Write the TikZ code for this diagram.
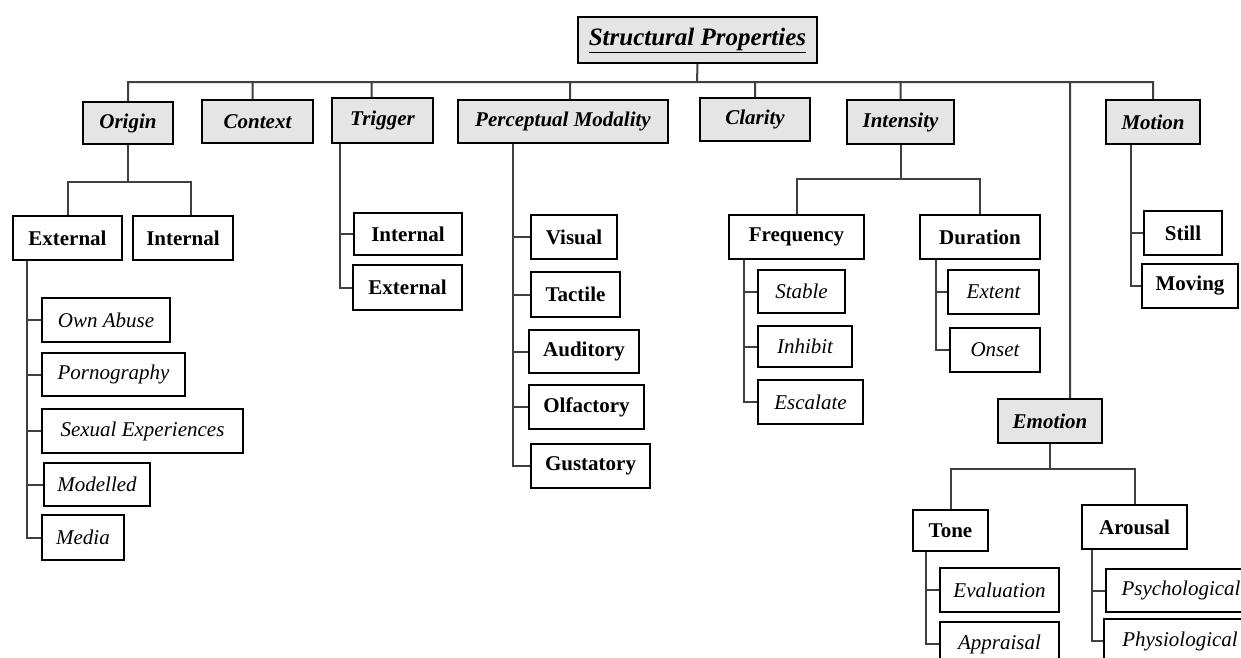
\documentclass[tikz,border=0pt]{standalone}
\usepackage{fontspec}
\setmainfont{Liberation Serif}

\begin{document}
\begin{tikzpicture}[x=1pt, y=-1pt,
    box/.style={draw, line width=2pt, anchor=north west, inner sep=0pt},
    head/.style={box, fill=gray!20, font=\fontsize{21}{25}\selectfont\bfseries\itshape},
    sub/.style={box, font=\fontsize{21}{25}\selectfont\bfseries},
    leaf/.style={box, font=\fontsize{21}{25}\selectfont\itshape},
    link/.style={line width=2pt, black!75}]
\useasboundingbox (0,0) rectangle (1241,657);
\clip (0,0) rectangle (1241,657);

% top level
\node[head, font=\fontsize{25}{29}\selectfont\bfseries\itshape, minimum width=239pt, minimum height=46pt] (sp) at (577,16) {\underline{Structural Properties}};
\node[head, minimum width=90pt, minimum height=42pt] (origin) at (82,101) {Origin};
\node[head, minimum width=111pt, minimum height=43pt] (context) at (201,99) {Context};
\node[head, minimum width=101pt, minimum height=45pt] (trigger) at (331,97) {Trigger};
\node[head, minimum width=210pt, minimum height=43pt] (pm) at (457,99) {Perceptual Modality};
\node[head, minimum width=110pt, minimum height=43pt] (clarity) at (699,97) {Clarity};
\node[head, minimum width=107pt, minimum height=44pt] (intensity) at (846,99) {Intensity};
\node[head, minimum width=94pt, minimum height=44pt] (motion) at (1105,99) {Motion};
\node[head, minimum width=104pt, minimum height=44pt] (emotion) at (997,398) {Emotion};

% origin
\node[sub, minimum width=109pt, minimum height=44pt] (oext) at (12,215) {External};
\node[sub, minimum width=100pt, minimum height=44pt] (oint) at (132,215) {Internal};
\node[leaf, minimum width=128pt, minimum height=44pt] (abuse) at (41,297) {Own Abuse};
\node[leaf, minimum width=143pt, minimum height=43pt] (porn) at (41,352) {Pornography};
\node[leaf, minimum width=201pt, minimum height=44pt] (sexexp) at (41,408) {Sexual Experiences};
\node[leaf, minimum width=106pt, minimum height=43pt] (modelled) at (43,462) {Modelled};
\node[leaf, minimum width=82pt, minimum height=45pt] (media) at (41,514) {Media};

% trigger
\node[sub, minimum width=108pt, minimum height=42pt] (trint) at (353,212) {Internal};
\node[sub, minimum width=109pt, minimum height=45pt] (trext) at (352,264) {External};

% perceptual modality
\node[sub, minimum width=86pt, minimum height=44pt] (visual) at (530,214) {Visual};
\node[sub, minimum width=89pt, minimum height=45pt] (tactile) at (530,271) {Tactile};
\node[sub, minimum width=110pt, minimum height=43pt] (auditory) at (528,329) {Auditory};
\node[sub, minimum width=115pt, minimum height=44pt] (olfactory) at (528,384) {Olfactory};
\node[sub, minimum width=119pt, minimum height=44pt] (gustatory) at (530,443) {Gustatory};

% intensity
\node[sub, minimum width=135pt, minimum height=44pt] (freq) at (728,214) {Frequency};
\node[sub, minimum width=120pt, minimum height=44pt] (dur) at (919,214) {Duration};
\node[leaf, minimum width=87pt, minimum height=43pt] (stable) at (757,269) {Stable};
\node[leaf, minimum width=94pt, minimum height=41pt] (inhibit) at (757,325) {Inhibit};
\node[leaf, minimum width=105pt, minimum height=44pt] (escalate) at (757,379) {Escalate};
\node[leaf, minimum width=91pt, minimum height=44pt] (extent) at (947,269) {Extent};
\node[leaf, minimum width=90pt, minimum height=44pt] (onset) at (949,327) {Onset};

% motion
\node[sub, minimum width=78pt, minimum height=44pt] (still) at (1143,210) {Still};
\node[sub, minimum width=96pt, minimum height=44pt] (moving) at (1141,263) {Moving};

% emotion
\node[sub, minimum width=75pt, minimum height=41pt] (tone) at (912,509) {Tone};
\node[sub, minimum width=105pt, minimum height=44pt] (arousal) at (1081,504) {Arousal};
\node[leaf, minimum width=119pt, minimum height=44pt] (evaluation) at (939,567) {Evaluation};
\node[leaf, minimum width=119pt, minimum height=44pt] (appraisal) at (939,621) {Appraisal};
\node[leaf, minimum width=150pt, minimum height=43pt] (psycho) at (1105,568) {Psychological};
\node[leaf, minimum width=152pt, minimum height=44pt] (physio) at (1103,618) {Physiological};

% forks and spines
\coordinate (bus) at (697,82);
\coordinate (emotop) at (1070,82);
\coordinate (ofork) at ([yshift=-37pt]origin.south);
\coordinate (ifork) at ([yshift=-34pt]intensity.south);
\coordinate (efork) at ([yshift=-25pt]emotion.south);
\coordinate (espine) at ([xshift=15pt]oext.south west);
\coordinate (tspine) at ([xshift=9pt]trigger.south west);
\coordinate (pspine) at ([xshift=56pt]pm.south west);
\coordinate (fspine) at ([xshift=16pt]freq.south west);
\coordinate (dspine) at ([xshift=17pt]dur.south west);
\coordinate (mspine) at ([xshift=26pt]motion.south west);
\coordinate (tnspine) at ([xshift=14pt]tone.south west);
\coordinate (aspine) at ([xshift=11pt]arousal.south west);

\draw[link] (sp.south) -- (bus)
    (origin.north) |- (bus) -| (motion.north)
    ([xshift=-5pt]context.north) -- ([xshift=-5pt]context.north |- bus)
    ([xshift=-11pt]trigger.north) -- ([xshift=-11pt]trigger.north |- bus)
    ([xshift=7pt]pm.north) -- ([xshift=7pt]pm.north |- bus)
    (clarity.north) -- (clarity.north |- bus)
    (intensity.north) -- (intensity.north |- bus)
    (emotop) -- (emotop |- emotion.north);
\draw[link] (origin.south) -- (ofork)
    (oext.north) |- (ofork) -| ([xshift=8pt]oint.north);
\draw[link] (espine) |- (abuse.west) (espine) |- (porn.west) (espine) |- (sexexp.west)
    (espine) |- (modelled.west) (espine) |- (media.west);
\draw[link] (tspine) |- (trint.west) (tspine) |- (trext.west);
\draw[link] (pspine) |- (visual.west) (pspine) |- (tactile.west) (pspine) |- (auditory.west)
    (pspine) |- (olfactory.west) (pspine) |- (gustatory.west);
\draw[link] (intensity.south) -- (ifork)
    (freq.north) |- (ifork) -| (dur.north);
\draw[link] (fspine) |- (stable.west) (fspine) |- (inhibit.west) (fspine) |- (escalate.west);
\draw[link] (dspine) |- (extent.west) (dspine) |- (onset.west);
\draw[link] (mspine) |- (still.west) (mspine) |- (moving.west);
\draw[link] (emotion.south) -- (efork)
    (tone.north) |- (efork) -| (arousal.north);
\draw[link] (tnspine) |- (evaluation.west) (tnspine) |- (appraisal.west);
\draw[link] (aspine) |- (psycho.west) (aspine) |- (physio.west);
\end{tikzpicture}
\end{document}
